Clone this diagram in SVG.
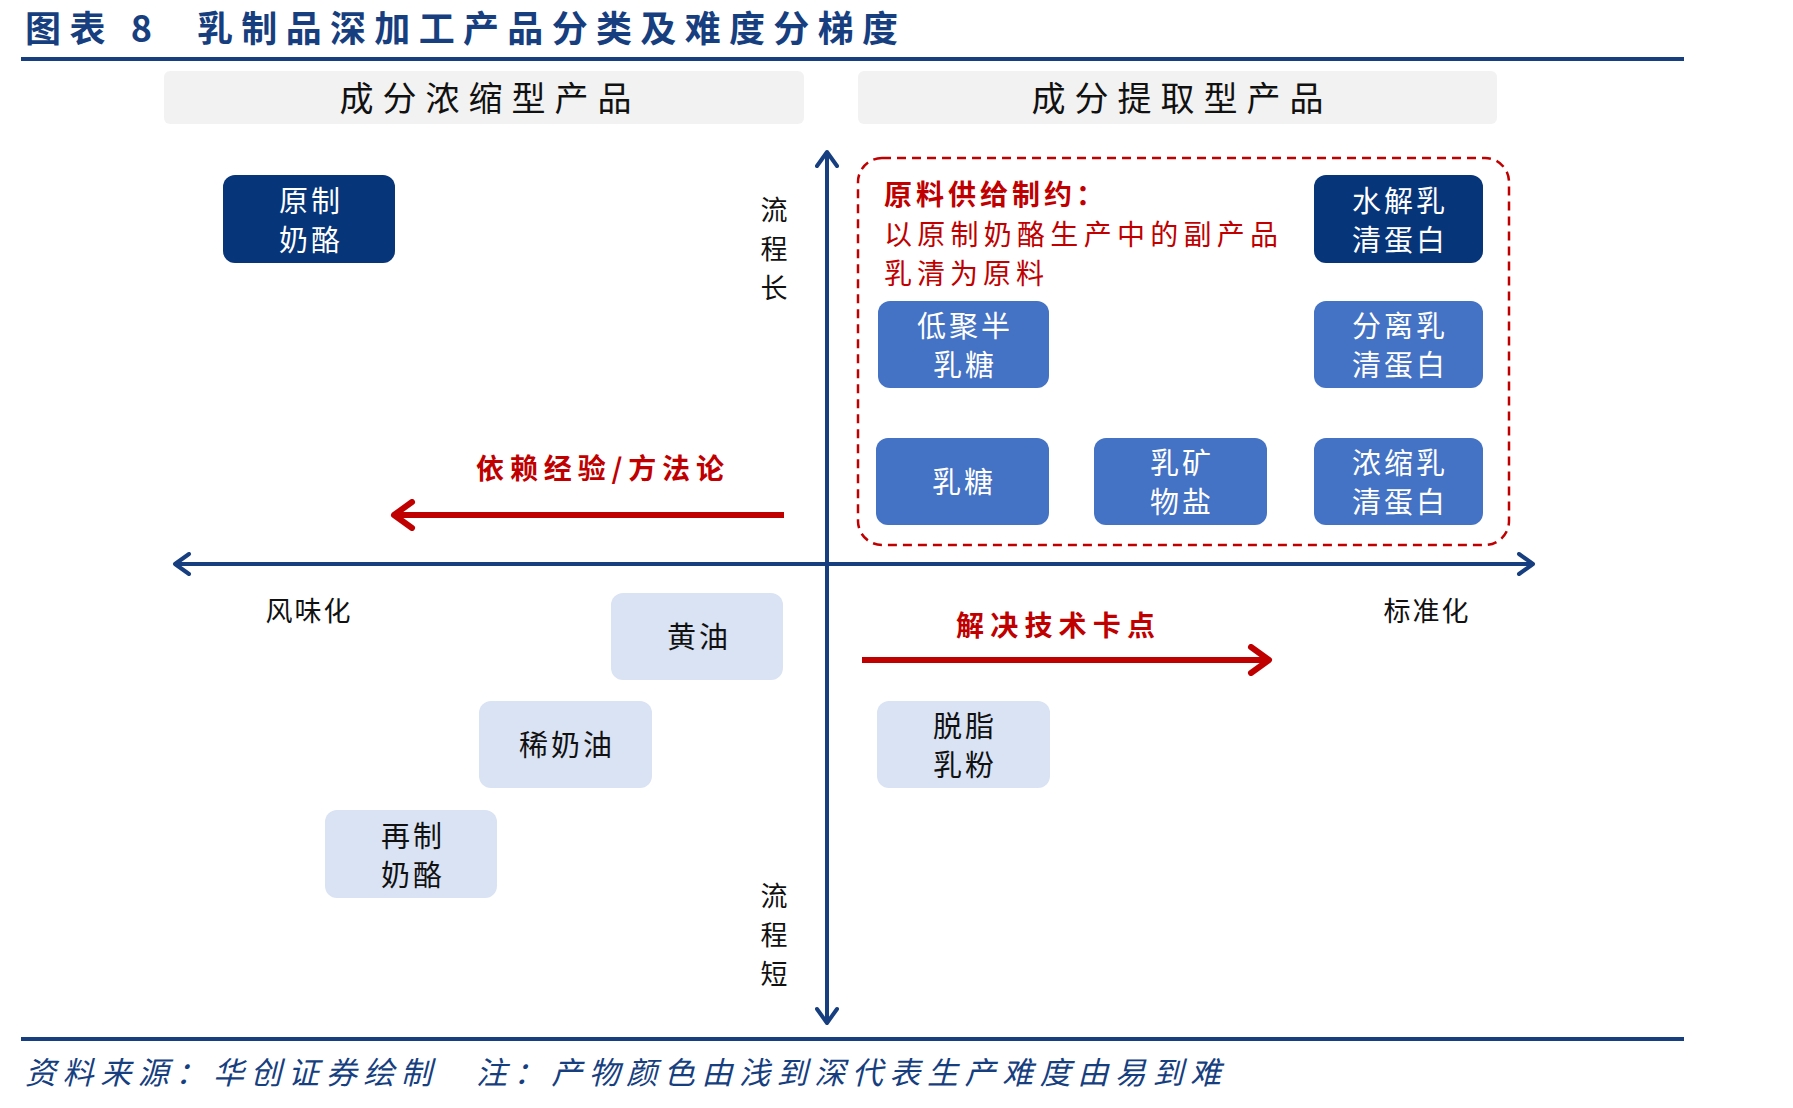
<svg xmlns="http://www.w3.org/2000/svg" width="1793" height="1108" viewBox="0 0 1793 1108">
<style>
text{font-family:"Noto Sans CJK SC","Noto Sans",sans-serif;}
.title{font-size:36px;font-weight:bold;fill:#173f80;}
.hdr{font-size:34px;fill:#111;letter-spacing:9px;text-anchor:middle;dominant-baseline:central;}
.hbox{fill:#f2f2f2;}
.dark{fill:#073579;}
.mid{fill:#4472c4;}
.light{fill:#dae3f3;}
.wt{font-size:29px;fill:#fff;text-anchor:middle;dominant-baseline:central;letter-spacing:3px;}
.bt{font-size:29px;fill:#111;text-anchor:middle;dominant-baseline:central;letter-spacing:3px;}
.lbl{font-size:27px;fill:#111;text-anchor:middle;dominant-baseline:central;}
.red{font-size:28px;fill:#c00000;}
.axis{stroke:#173f80;stroke-width:4;fill:none;}
.rarrow{stroke:#c00000;stroke-width:6;fill:none;}
.rule{stroke:#173f80;stroke-width:4;}
.foot{font-size:31px;fill:#173f80;font-style:italic;}
</style>
<defs>
<marker id="ah" viewBox="0 0 20 24" refX="17" refY="12" markerWidth="20" markerHeight="24" markerUnits="userSpaceOnUse" orient="auto-start-reverse">
<path d="M3,2 L17,12 L3,22" fill="none" stroke="#173f80" stroke-width="4" stroke-linecap="round" stroke-linejoin="round"/>
</marker>
<marker id="rh" viewBox="0 0 26 32" refX="22" refY="16" markerWidth="26" markerHeight="32" markerUnits="userSpaceOnUse" orient="auto-start-reverse">
<path d="M4,3 L22,16 L4,29" fill="none" stroke="#c00000" stroke-width="6" stroke-linecap="round" stroke-linejoin="round"/>
</marker>
</defs>
<rect width="1793" height="1108" fill="#fff"/>

<text class="title" x="25" y="42" textLength="127" lengthAdjust="spacing">图表 8</text>
<text class="title" x="197" y="42" textLength="701" lengthAdjust="spacing">乳制品深加工产品分类及难度分梯度</text>
<line class="rule" x1="21" y1="59" x2="1684" y2="59"/>

<g id="header-left">
<rect class="hbox" x="164" y="71" width="640" height="53" rx="6"/>
<text class="hdr" x="490" y="96">成分浓缩型产品</text>
</g>
<g id="header-right">
<rect class="hbox" x="858" y="71" width="639" height="53" rx="6"/>
<text class="hdr" x="1182" y="96">成分提取型产品</text>
</g>

<g id="connectors">
<line class="axis" x1="827" y1="152" x2="827" y2="1023" marker-start="url(#ah)" marker-end="url(#ah)"/>
<line class="axis" x1="175" y1="564" x2="1533" y2="564" marker-start="url(#ah)" marker-end="url(#ah)"/>
<line class="rarrow" x1="784" y1="515" x2="394" y2="515" marker-end="url(#rh)"/>
<line class="rarrow" x1="862" y1="660" x2="1269" y2="660" marker-end="url(#rh)"/>
</g>

<g id="extract-zone">
<rect x="858" y="158" width="651" height="387" rx="24" fill="none" stroke="#c00000" stroke-width="2.5" stroke-dasharray="9,6"/>
<text class="red" x="884" y="205" font-weight="bold" letter-spacing="4">原料供给制约：</text>
<text class="red" x="884" y="245" textLength="394" lengthAdjust="spacing">以原制奶酪生产中的副产品</text>
<text class="red" x="884" y="284" letter-spacing="5">乳清为原料</text>
</g>

<g id="label-long">
<text class="lbl" x="774" y="208">流</text>
<text class="lbl" x="774" y="247">程</text>
<text class="lbl" x="774" y="286">长</text>
</g>
<g id="label-short">
<text class="lbl" x="774" y="894">流</text>
<text class="lbl" x="774" y="933">程</text>
<text class="lbl" x="774" y="972">短</text>
</g>
<g id="label-flavor"><text class="lbl" x="309" y="609" letter-spacing="2">风味化</text></g>
<g id="label-standard"><text class="lbl" x="1427" y="609" letter-spacing="2">标准化</text></g>
<g id="label-experience"><text class="red" x="476" y="479" font-weight="bold" textLength="248" lengthAdjust="spacing">依赖经验/方法论</text></g>
<g id="label-tech"><text class="red" x="956" y="636" font-weight="bold" textLength="199" lengthAdjust="spacing">解决技术卡点</text></g>

<g id="node-natural-cheese">
<rect class="dark" x="223" y="175" width="172" height="88" rx="12"/>
<text class="wt" x="311" y="199">原制</text><text class="wt" x="311" y="238">奶酪</text>
</g>
<g id="node-hydrolyzed-whey">
<rect class="dark" x="1314" y="175" width="169" height="88" rx="12"/>
<text class="wt" x="1400" y="199">水解乳</text><text class="wt" x="1400" y="238">清蛋白</text>
</g>
<g id="node-gos">
<rect class="mid" x="878" y="301" width="171" height="87" rx="12"/>
<text class="wt" x="965" y="324">低聚半</text><text class="wt" x="965" y="363">乳糖</text>
</g>
<g id="node-isolate-whey">
<rect class="mid" x="1314" y="301" width="169" height="87" rx="12"/>
<text class="wt" x="1400" y="324">分离乳</text><text class="wt" x="1400" y="363">清蛋白</text>
</g>
<g id="node-lactose">
<rect class="mid" x="876" y="438" width="173" height="87" rx="12"/>
<text class="wt" x="964" y="480">乳糖</text>
</g>
<g id="node-milk-mineral">
<rect class="mid" x="1094" y="438" width="173" height="87" rx="12"/>
<text class="wt" x="1182" y="461">乳矿</text><text class="wt" x="1182" y="500">物盐</text>
</g>
<g id="node-concentrate-whey">
<rect class="mid" x="1314" y="438" width="169" height="87" rx="12"/>
<text class="wt" x="1400" y="461">浓缩乳</text><text class="wt" x="1400" y="500">清蛋白</text>
</g>
<g id="node-butter">
<rect class="light" x="611" y="593" width="172" height="87" rx="12"/>
<text class="bt" x="699" y="635">黄油</text>
</g>
<g id="node-cream">
<rect class="light" x="479" y="701" width="173" height="87" rx="12"/>
<text class="bt" x="567" y="743">稀奶油</text>
</g>
<g id="node-processed-cheese">
<rect class="light" x="325" y="810" width="172" height="88" rx="12"/>
<text class="bt" x="413" y="834">再制</text><text class="bt" x="413" y="873">奶酪</text>
</g>
<g id="node-skim-milk-powder">
<rect class="light" x="877" y="701" width="173" height="87" rx="12"/>
<text class="bt" x="965" y="724">脱脂</text><text class="bt" x="965" y="763">乳粉</text>
</g>

<line class="rule" x1="21" y1="1039" x2="1684" y2="1039"/>
<text class="foot" x="25" y="1084" textLength="1196" lengthAdjust="spacing">资料来源：华创证券绘制　注：产物颜色由浅到深代表生产难度由易到难</text>
</svg>
